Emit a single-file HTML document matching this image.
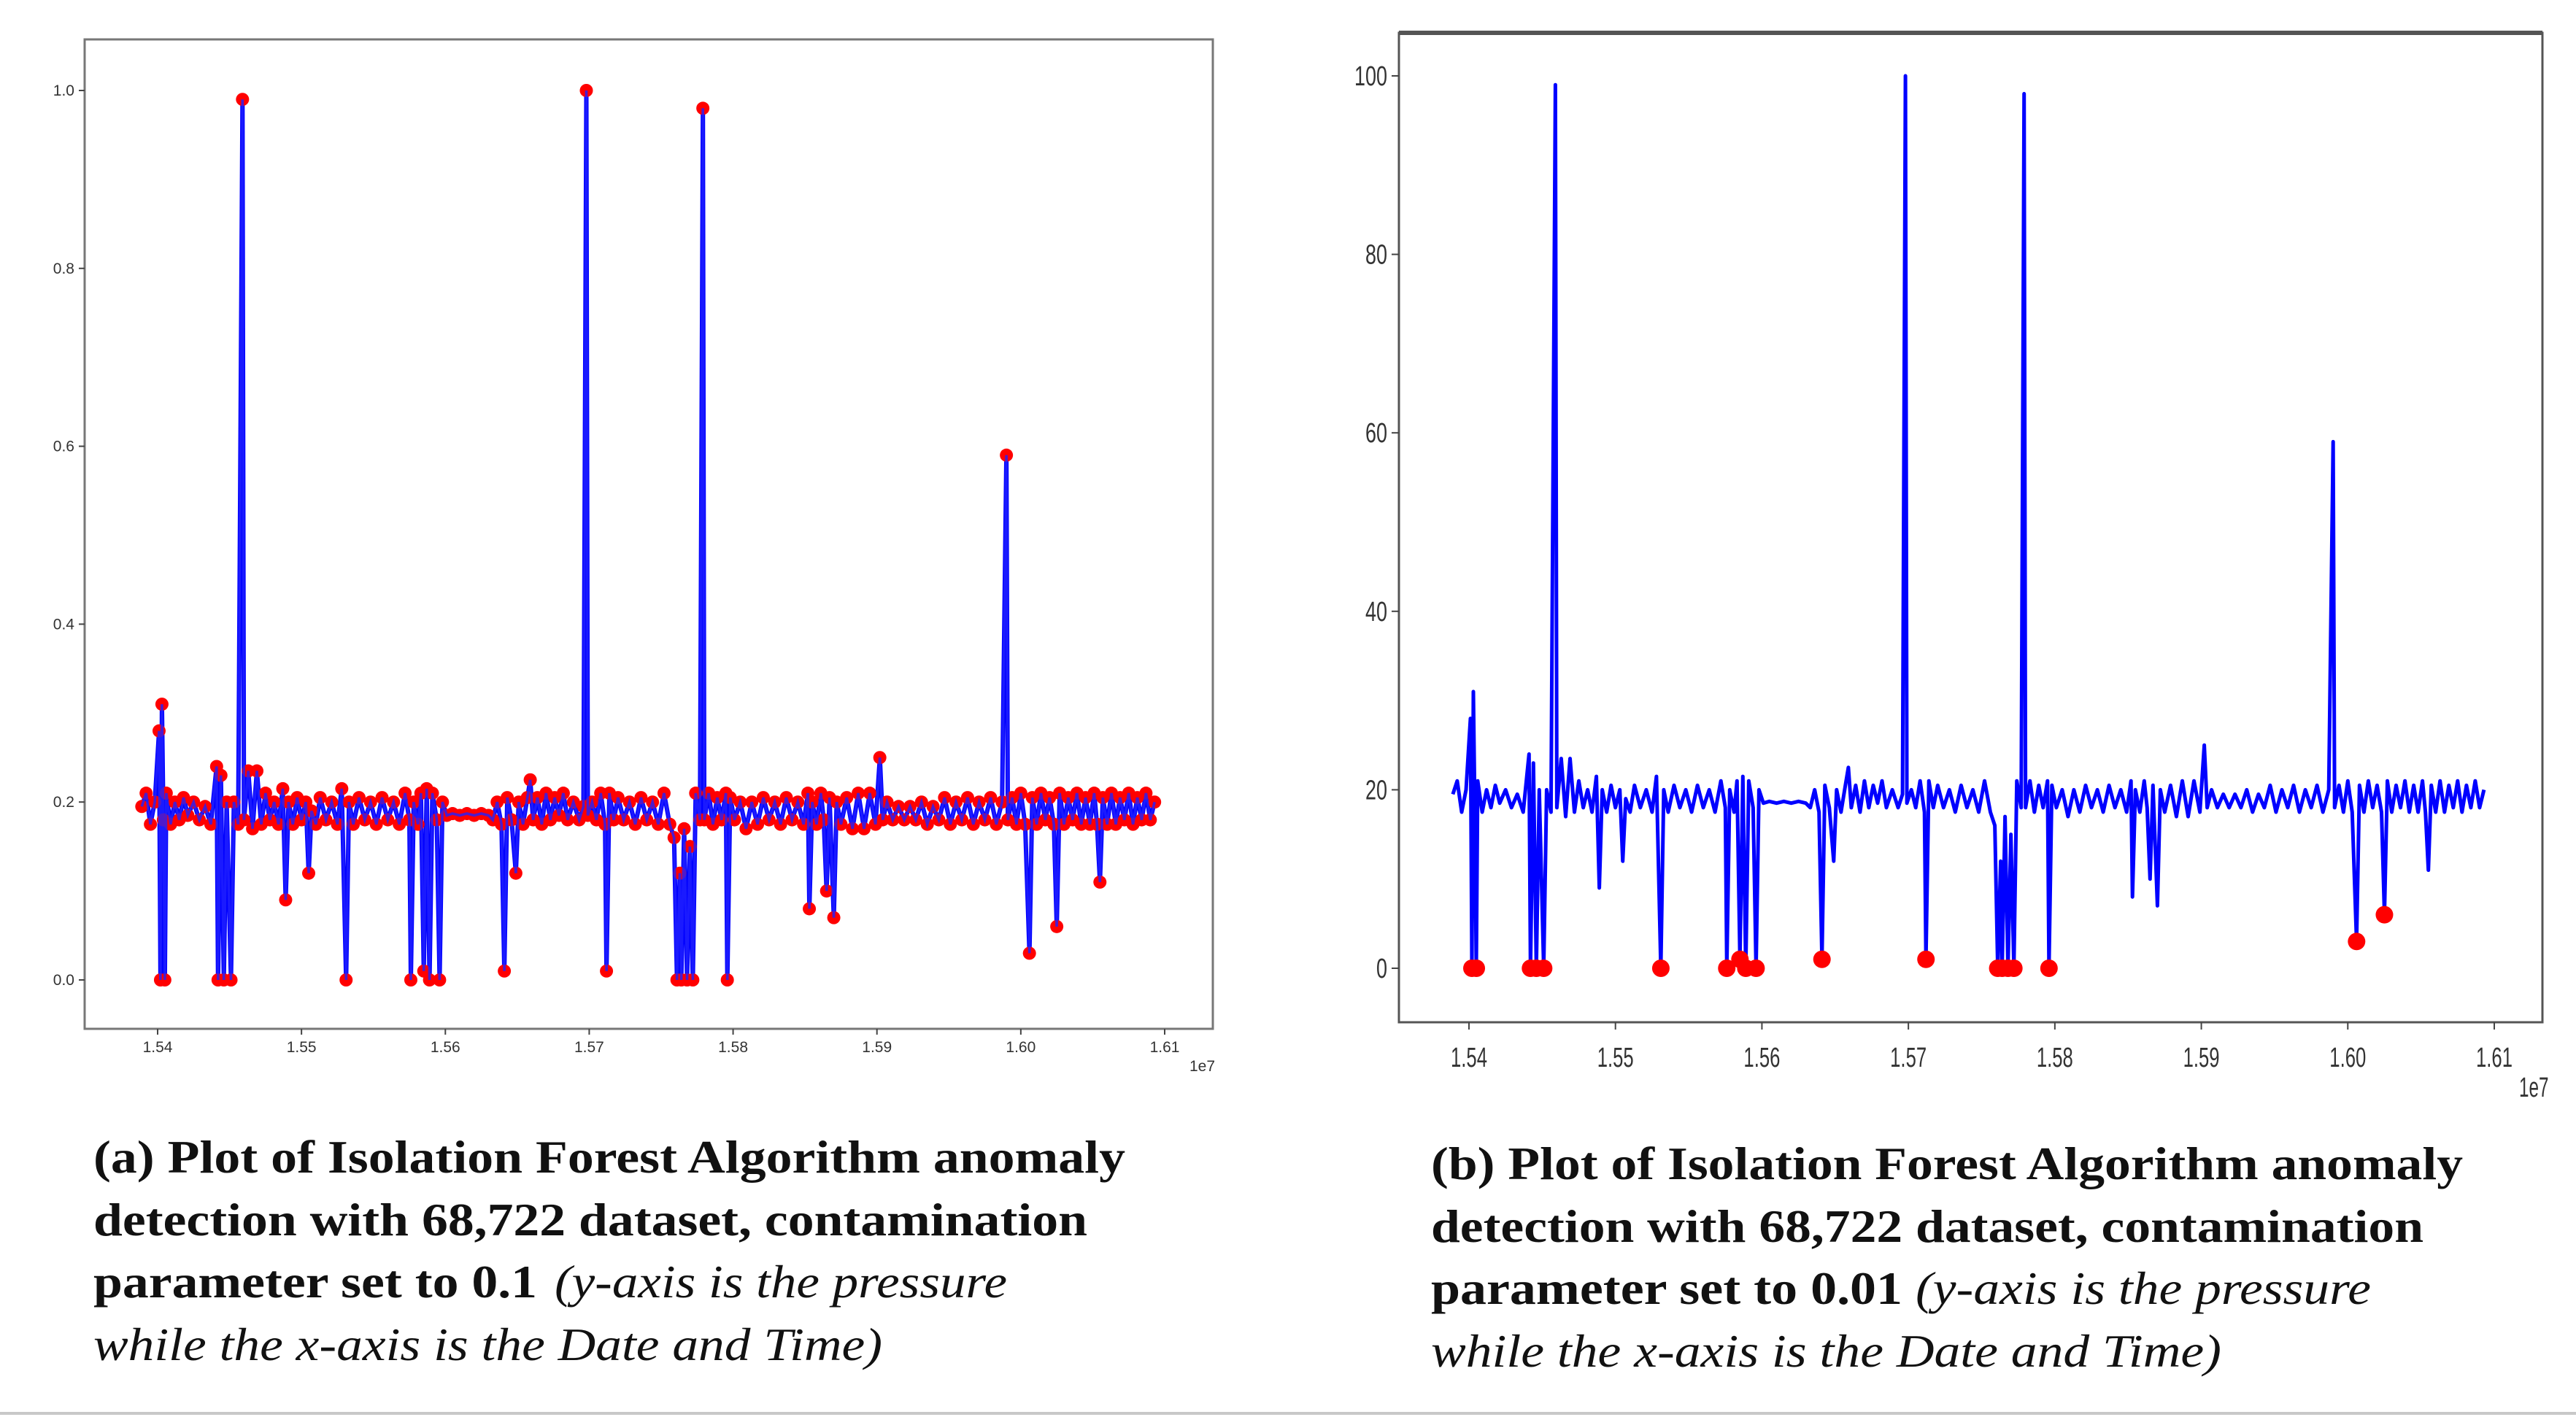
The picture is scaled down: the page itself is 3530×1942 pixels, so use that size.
<!DOCTYPE html>
<html><head><meta charset="utf-8"><style>
html,body{margin:0;padding:0;background:#fff;}
svg{display:block;}
.cap{font-family:"Liberation Serif",serif;font-size:64px;fill:#111;}
.b{font-weight:bold;}
.i{font-style:italic;font-weight:normal;}
.tl{font-family:"Liberation Sans",sans-serif;font-size:21px;fill:#333;}
.tr{font-family:"Liberation Sans",sans-serif;font-size:38px;fill:#333;}
</style></head><body>
<svg id="root" width="3530" height="1942" viewBox="0 0 3530 1942" xmlns="http://www.w3.org/2000/svg">
<rect x="0" y="0" width="3530" height="1942" fill="#fff"/>
<g id="chartA"></g>
<g id="chartB"></g>

<g>
<text class="cap b" x="128" y="1607" textLength="1414" lengthAdjust="spacingAndGlyphs">(a) Plot of Isolation Forest Algorithm anomaly</text>
<text class="cap b" x="128" y="1693" textLength="1362" lengthAdjust="spacingAndGlyphs">detection with 68,722 dataset, contamination</text>
<text class="cap b" x="128" y="1778" textLength="608" lengthAdjust="spacingAndGlyphs">parameter set to 0.1</text>
<text class="cap i" x="760" y="1778" textLength="620" lengthAdjust="spacingAndGlyphs">(y-axis is the pressure</text>
<text class="cap i" x="128" y="1864" textLength="1081" lengthAdjust="spacingAndGlyphs">while the x-axis is the Date and Time)</text>
</g>
<g>
<text class="cap b" x="1961" y="1616" textLength="1414" lengthAdjust="spacingAndGlyphs">(b) Plot of Isolation Forest Algorithm anomaly</text>
<text class="cap b" x="1961" y="1702" textLength="1360" lengthAdjust="spacingAndGlyphs">detection with 68,722 dataset, contamination</text>
<text class="cap b" x="1961" y="1787" textLength="646" lengthAdjust="spacingAndGlyphs">parameter set to 0.01</text>
<text class="cap i" x="2625" y="1787" textLength="624" lengthAdjust="spacingAndGlyphs">(y-axis is the pressure</text>
<text class="cap i" x="1961" y="1873" textLength="1083" lengthAdjust="spacingAndGlyphs">while the x-axis is the Date and Time)</text>
</g>
<rect x="0" y="1935" width="3530" height="4" fill="#c8c8c8"/>
</svg>
<script>
const times = [1.5389,1.5392,1.5395,1.5398,1.5401,1.5402,1.5403,1.5404,1.5405,1.5406,1.5409,1.5412,1.5415,1.5418,1.5421,1.5425,1.5429,1.5433,1.5437,1.5441,1.5442,1.5444,1.5446,1.5448,1.5451,1.5453,1.5456,1.5459,1.5460,1.5463,1.5466,1.5469,1.5472,1.5475,1.5478,1.5481,1.5484,1.5487,1.5489,1.5491,1.5494,1.5497,1.5500,1.5503,1.5505,1.5507,1.5510,1.5513,1.5517,1.5521,1.5525,1.5528,1.5531,1.5533,1.5536,
1.5540,1.5544,1.5548,1.5552,1.5556,1.5560,1.5564,1.5568,1.5572,1.5575,1.5576,1.5578,1.5581,1.5583,1.5585,1.5587,1.5589,1.5591,1.5594,1.5596,1.5598,1.5601,1.5605,1.5610,1.5615,1.5620,1.5625,1.5630,1.5633,1.5636,1.5639,1.5641,1.5643,1.5646,1.5649,1.5651,1.5654,1.5657,1.5659,1.5661,1.5664,1.5667,1.5670,1.5673,1.5676,1.5679,1.5682,1.5685,1.5689,1.5693,1.5696,1.5698,1.5699,1.5702,1.5705,1.5708,1.5711,1.5712,1.5714,1.5717,1.5720,1.5724,1.5728,1.5732,1.5736,1.5740,1.5744,1.5748,1.5752,1.5756,1.5759,1.5761,1.5763,1.5764,1.5766,1.5768,1.5770,1.5772,1.5774,1.5777,1.5779,1.5780,1.5783,1.5786,1.5789,1.5792,1.5795,1.5796,1.5798,1.5801,1.5805,1.5809,1.5813,1.5817,1.5821,1.5825,1.5829,1.5833,1.5837,1.5841,1.5845,1.5849,1.5852,1.5853,1.5855,1.5858,1.5861,1.5863,1.5865,1.5867,1.5870,1.5872,1.5875,1.5879,1.5883,1.5887,1.5891,1.5895,1.5899,1.5902,1.5904,1.5907,1.5911,1.5915,1.5919,1.5923,1.5927,1.5931,1.5935,1.5939,1.5943,1.5947,1.5951,1.5955,1.5959,1.5963,1.5967,1.5971,1.5975,1.5979,1.5983,1.5987,1.5990,1.5991,1.5994,1.5997,1.6000,1.6003,1.6006,1.6008,1.6011,1.6014,1.6017,1.6020,1.6023,1.6025,1.6027,1.6030,1.6033,1.6036,1.6039,1.6042,1.6045,1.6048,1.6051,1.6053,1.6055,1.6057,1.6060,1.6063,1.6066,1.6069,1.6072,1.6075,1.6078,1.6081,1.6084,1.6087,1.6090,1.6093];
const pressure = [.195,.21,.175,.20,.28,.00,.31,.18,.00,.21,.175,.20,.18,.205,.185,.20,.18,.195,.175,.24,.00,.23,.00,.20,.00,.20,.175,.99,.18,.235,.17,.235,.175,.21,.18,.20,.175,.215,.09,.20,.175,.205,.18,.20,.12,.19,.175,.205,.18,.20,.175,.215,.00,.20,.175,
.205,.18,.20,.175,.205,.18,.20,.175,.21,.18,.00,.20,.175,.21,.01,.215,.00,.21,.18,.00,.20,.185,.187,.185,.187,.185,.187,.185,.18,.20,.175,.01,.205,.18,.12,.20,.175,.205,.225,.18,.205,.175,.21,.18,.205,.185,.21,.18,.20,.18,.195,1.00,.185,.20,.18,.21,.175,.01,.21,.18,.205,.18,.20,.175,.205,.18,.20,.175,.21,.175,.16,.00,.12,.00,.17,.00,.15,.00,.21,.18,.98,.18,.21,.175,.205,.18,.21,.00,.205,.18,.20,.17,.20,.175,.205,.18,.20,.175,.205,.18,.20,.175,.21,.08,.20,.175,.21,.18,.10,.205,.07,.20,.175,.205,.17,.21,.17,.21,.175,.25,.18,.20,.18,.195,.18,.195,.18,.20,.175,.195,.18,.205,.175,.20,.18,.205,.175,.20,.18,.205,.175,.20,.59,.18,.205,.175,.21,.175,.03,.205,.175,.21,.18,.205,.175,.06,.21,.175,.205,.18,.21,.175,.205,.175,.21,.175,.11,.205,.175,.21,.175,.205,.18,.21,.175,.205,.18,.21,.18,.20];
const xTicks = [1.54,1.55,1.56,1.57,1.58,1.59,1.60,1.61];
const xTickLabels = ["1.54","1.55","1.56","1.57","1.58","1.59","1.60","1.61"];
const yTicksA = [0,0.2,0.4,0.6,0.8,1.0];
const yTickLabelsA = ["0.0","0.2","0.4","0.6","0.8","1.0"];
const yTicksB = [0,20,40,60,80,100];
const yTickLabelsB = ["0","20","40","60","80","100"];
const scaleB = 100;
const anomalyThresholdB = 7;

const NS = "http://www.w3.org/2000/svg";
function mk(tag, attrs, parent){const e=document.createElementNS(NS,tag);for(const k in attrs)e.setAttribute(k,attrs[k]);parent.appendChild(e);return e;}

function drawChart(g, cfg){
  const xs = t => cfg.x0 + (t-1.54)/0.07*(cfg.x1-cfg.x0);
  const ys = v => cfg.y0 + v/cfg.vmax*(cfg.y1-cfg.y0);
  const frame = mk('rect',{x:cfg.L,y:cfg.T,width:cfg.R-cfg.L,height:cfg.B-cfg.T,fill:'none',stroke:cfg.frameColor,'stroke-width':cfg.frameW},g);
  
  
  if(cfg.topW){const tb=mk('line',{x1:cfg.L,x2:cfg.R,y1:cfg.T,y2:cfg.T,stroke:'#555','stroke-width':cfg.topW},g);
    
    }
  xTicks.forEach((t,i)=>{
    const x=xs(t);
    const tk=mk('line',{x1:x,x2:x,y1:cfg.B,y2:cfg.B+cfg.tickLen,stroke:'#444','stroke-width':2},g);
    
    
    const tx=mk('text',{x:x,y:cfg.xLabelY,'text-anchor':'middle',class:cfg.cls},g);
    tx.textContent=xTickLabels[i];
    if(cfg.xLabW){tx.setAttribute('textLength',cfg.xLabW);tx.setAttribute('lengthAdjust','spacingAndGlyphs');tx.setAttribute('x',x-cfg.xLabW/2);tx.setAttribute('text-anchor','start');}
    
    
  });
  cfg.yTicks.forEach((v,i)=>{
    const y=ys(v);
    const tk=mk('line',{x1:cfg.L-cfg.tickLen,x2:cfg.L,y1:y,y2:y,stroke:'#444','stroke-width':2},g);
    
    
    const tx=mk('text',{x:cfg.L-cfg.tickLen-6,y:y+cfg.yLabOff,'text-anchor':'end',class:cfg.cls},g);
    tx.textContent=cfg.yLabels[i];
    if(cfg.yLabCharW){const w=cfg.yLabCharW*cfg.yLabels[i].length;tx.setAttribute('textLength',w);tx.setAttribute('lengthAdjust','spacingAndGlyphs');}
    
    
  });
  const off=mk('text',{x:cfg.offX,y:cfg.offY,class:cfg.cls},g);
  off.textContent='1e7';
  if(cfg.yLabCharW){off.setAttribute('textLength',cfg.yLabCharW*3*0.9);off.setAttribute('lengthAdjust','spacingAndGlyphs');}
  
  
  let d='';
  times.forEach((t,i)=>{d+=(i?'L':'M')+xs(t).toFixed(1)+','+ys(pressure[i]*cfg.mult).toFixed(1);});
  const pl=mk('path',{d:d,fill:'none',stroke:'#0000ff','stroke-width':cfg.lineW,'stroke-linejoin':'round'},g);
  
  
  times.forEach((t,i)=>{
    const v=pressure[i]*cfg.mult;
    if(v<=cfg.markThresh){
      const c=mk('circle',{cx:xs(t),cy:ys(v),r:cfg.mr,fill:'#ff0000'},g);
      
      
    }
  });
  if(cfg.overline){const pl2=mk('path',{d:d,fill:'none',stroke:'#2020ff','stroke-width':cfg.lineW*0.6,opacity:0.8},g);
    
    }
}
drawChart(document.getElementById('chartA'),{L:116,R:1662,T:54,B:1410,x0:216,x1:1596,y0:1343,y1:124,vmax:1,
  mult:1,yTicks:yTicksA,yLabels:yTickLabelsA,cls:'tl',tickLen:8,xLabelY:1442,yLabOff:7,offX:1630,offY:1468,
  frameColor:'#777',frameW:3,lineW:6,mr:9,markThresh:10,overline:true});
drawChart(document.getElementById('chartB'),{L:1917,R:3484,T:45,B:1401,x0:2013,x1:3418,y0:1327,y1:104,vmax:100,
  mult:scaleB,yTicks:yTicksB,yLabels:yTickLabelsB,cls:'tr',tickLen:10,xLabelY:1462,yLabOff:13,offX:3452,offY:1503,
  frameColor:'#555',frameW:3,topW:6,lineW:5,mr:12,markThresh:anomalyThresholdB,xLabW:50,yLabCharW:15});
</script>
</body></html>
